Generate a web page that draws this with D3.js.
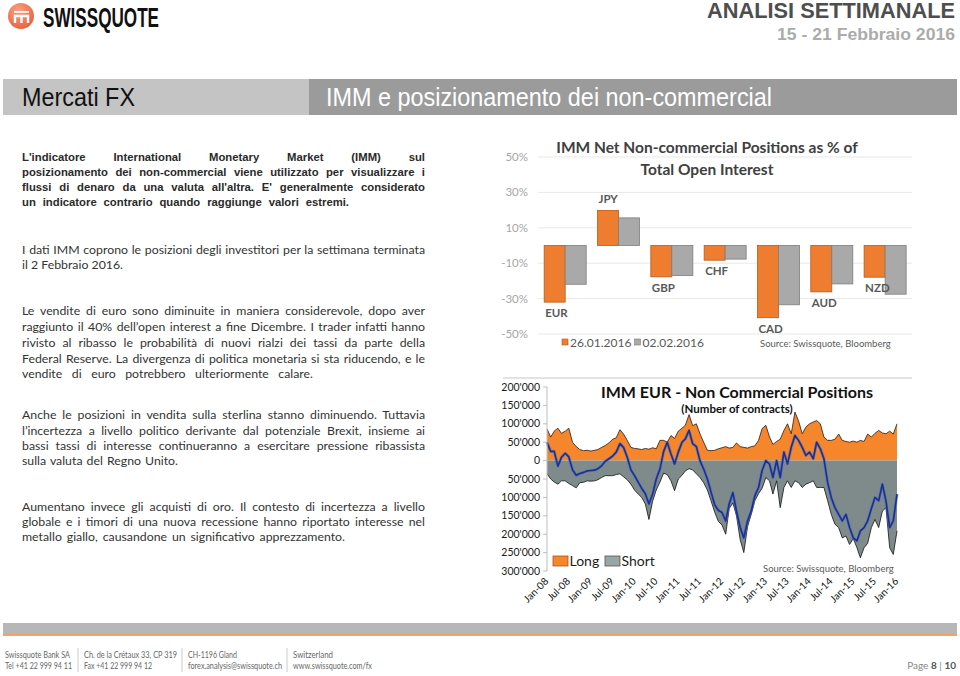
<!DOCTYPE html>
<html><head><meta charset="utf-8">
<script src="https://cdn.jsdelivr.net/npm/d3@7"></script>
<style>
html,body{margin:0;padding:0;background:#fff;}
svg{display:block;}
</style></head>
<body>
<svg id="page" width="960" height="676"></svg>
<script>
// ---------- DATA: bar chart ----------
const barCategories = ["EUR","JPY","GBP","CHF","CAD","AUD","NZD"];
const barSeries = ["26.01.2016","02.02.2016"];
const bar26Jan = [-32.0, 19.8, -17.7, -8.3, -40.8, -26.2, -17.9];
const bar02Feb = [-21.9, 15.6, -17.0, -7.7, -33.5, -21.7, -27.5];
const barTicks = [50, 30, 10, -10, -30, -50];

// ---------- DATA: EUR positions (thousands of contracts, monthly from Jan-08) ----------
const eurStart = "2008-01";
const eurLongK = [86,64,80,88,74,80,88,50,38,30,
  27,28,26,28,30,36,41,48,58,62,
  84,72,55,36,33,32,30,33,31,35,
  32,55,55,50,68,60,80,88,96,125,
  95,100,73,50,28,27,28,32,35,38,
  34,36,48,38,36,34,38,40,55,87,
  96,64,44,52,58,82,100,73,132,108,
  73,91,100,105,109,100,64,55,55,58,
  72,55,52,50,53,50,55,52,72,64,
  74,82,75,73,80,72,100];
const eurShortK = [-36,-50,-58,-64,-55,-55,-62,-68,-74,-60,
  -59,-55,-56,-55,-52,-46,-41,-41,-41,-38,
  -36,-44,-52,-64,-80,-91,-100,-118,-160,-110,
  -80,-58,-34,-38,-55,-82,-50,-40,-28,-22,
  -25,-36,-46,-60,-80,-109,-140,-165,-175,-200,
  -130,-115,-150,-215,-250,-180,-146,-109,-90,-75,
  -46,-55,-91,-55,-128,-73,-55,-73,-55,-60,
  -73,-64,-60,-55,-73,-73,-73,-109,-146,-173,
  -182,-210,-205,-228,-212,-237,-264,-237,-225,-182,
  -160,-182,-137,-128,-237,-255,-191];
const eurNetK = [50,25,25,-15,9,20,10,-25,-40,-35,
  -32,-28,-27,-26,-22,-14,-2,5,12,23,
  46,36,9,-25,-41,-59,-75,-90,-118,-91,
  -50,-23,25,50,18,-9,23,50,59,82,
  46,38,0,-23,-50,-85,-120,-135,-141,-164,
  -118,-87,-137,-182,-210,-164,-137,-96,-73,-27,
  0,-10,-46,0,-46,23,-9,36,68,55,
  36,14,23,5,50,32,5,-60,-100,-128,
  -146,-164,-146,-182,-210,-218,-191,-182,-164,-130,
  -100,-109,-64,-110,-182,-164,-91];
const eurXTicks = ["Jan-08","Jul-08","Jan-09","Jul-09","Jan-10","Jul-10","Jan-11","Jul-11",
  "Jan-12","Jul-12","Jan-13","Jul-13","Jan-14","Jul-14","Jan-15","Jul-15","Jan-16"];
const eurYTicksK = [200,150,100,50,0,-50,-100,-150,-200,-250,-300];
const eurSeries = ["Long","Short"];

// ---------- PAGE ----------
const svg = d3.select("#page");
const BODY = "Lato, 'Open Sans', sans-serif";
const NARROW = "'Liberation Sans Narrow', 'Liberation Sans', Arial, sans-serif";
const ARIAL = "'Liberation Sans', Arial, sans-serif";
const CAL = "Lato, 'Open Sans', sans-serif";

// logo
const defs = svg.append("defs");
const rg = defs.append("radialGradient").attr("id","lg").attr("cx","40%").attr("cy","30%").attr("r","75%");
rg.append("stop").attr("offset","0%").attr("stop-color","#f9a184");
rg.append("stop").attr("offset","100%").attr("stop-color","#e8603d");
svg.append("circle").attr("cx",21).attr("cy",16).attr("r",13).attr("fill","url(#lg)");
svg.append("rect").attr("x",14).attr("y",11).attr("width",15).attr("height",1.8).attr("fill","#fff");
svg.append("path").attr("d","M15 23 V16 H28 V23 M21.5 16 V23").attr("fill","none").attr("stroke","#fff").attr("stroke-width",2.4);
svg.append("text").attr("x",43).attr("y",27).text("SWISSQUOTE")
  .attr("font-family",NARROW).attr("font-weight","bold").attr("font-size",28)
  .attr("textLength",116).attr("lengthAdjust","spacingAndGlyphs").attr("fill","#111");

svg.append("text").attr("x",955).attr("y",18).attr("text-anchor","end").text("ANALISI SETTIMANALE")
  .attr("font-family",ARIAL).attr("font-weight","bold").attr("font-size",21.5)
  .attr("textLength",248).attr("lengthAdjust","spacingAndGlyphs").attr("fill","#4e4e4e");
svg.append("text").attr("x",955).attr("y",40).attr("text-anchor","end").text("15 - 21 Febbraio 2016")
  .attr("font-family",ARIAL).attr("font-weight","bold").attr("font-size",16.5)
  .attr("textLength",178).attr("lengthAdjust","spacingAndGlyphs").attr("fill","#ababab");

// header band
svg.append("rect").attr("x",3).attr("y",79).attr("width",306).attr("height",36).attr("fill","#c4c4c4");
svg.append("rect").attr("x",309).attr("y",79).attr("width",648).attr("height",36).attr("fill","#9b9b9b");
svg.append("text").attr("x",22).attr("y",106).text("Mercati FX")
  .attr("font-family",NARROW).attr("font-size",25).attr("textLength",113).attr("lengthAdjust","spacingAndGlyphs").attr("fill","#111");
svg.append("text").attr("x",326).attr("y",106).text("IMM e posizionamento dei non-commercial")
  .attr("font-family",NARROW).attr("font-size",25).attr("textLength",446).attr("lengthAdjust","spacingAndGlyphs").attr("fill","#fff");

// body text, justified by word spacing
function para(lines, font, size, weight, color){
  lines.forEach(l=>{
    const t = svg.append("text").attr("x",22).attr("y",l[1]).attr("dy","0.35em").text(l[0])
      .attr("font-family",font).attr("font-size",size).attr("font-weight",weight).attr("fill",color);
    if (l[2]) {
      const nat = t.node().getComputedTextLength();
      const spaces = (l[0].match(/ /g) || []).length;
      if (spaces > 0) t.attr("word-spacing", (l[2] - nat) / spaces);
    }
  });
}
para([
 ["L'indicatore International Monetary Market (IMM) sul",157,403],
 ["posizionamento dei non-commercial viene utilizzato per visualizzare i",172,403],
 ["flussi di denaro da una valuta all'altra. E' generalmente considerato",187,403],
 ["un indicatore contrario quando raggiunge valori estremi.",202,327]
], ARIAL, 11.3, "bold", "#2a2a2a");
para([
 ["I dati IMM coprono le posizioni degli investitori per la settimana terminata",250,403],
 ["il 2 Febbraio 2016.",265,101]
], BODY, 12.3, "normal", "#333");
para([
 ["Le vendite di euro sono diminuite in maniera considerevole, dopo aver",311,403],
 ["raggiunto il 40% dell\u2019open interest a fine Dicembre. I trader infatti hanno",327,403],
 ["rivisto al ribasso le probabilità di nuovi rialzi dei tassi da parte della",343,403],
 ["Federal Reserve. La divergenza di politica monetaria si sta riducendo, e le",359,403],
 ["vendite di euro potrebbero ulteriormente calare.",374,291]
], BODY, 12.3, "normal", "#333");
para([
 ["Anche le posizioni in vendita sulla sterlina stanno diminuendo. Tuttavia",415,403],
 ["l\u2019incertezza a livello politico derivante dal potenziale Brexit, insieme ai",431,403],
 ["bassi tassi di interesse continueranno a esercitare pressione ribassista",446,403],
 ["sulla valuta del Regno Unito.",461,156]
], BODY, 12.3, "normal", "#333");
para([
 ["Aumentano invece gli acquisti di oro. Il contesto di incertezza a livello",507,403],
 ["globale e i timori di una nuova recessione hanno riportato interesse nel",522,403],
 ["metallo giallo, causandone un significativo apprezzamento.",537,323]
], BODY, 12.3, "normal", "#333");

// ---------- CHART 1: bars ----------
const c1 = svg.append("g");
const x0 = d3.scaleBand().domain(barCategories).range([538.3, 912]).paddingInner(0.212).paddingOuter(0.11);
const x1 = d3.scaleBand().domain(barSeries).range([0, x0.bandwidth()]);
const y1 = d3.scaleLinear().domain([-50, 50]).range([334, 157]);
barTicks.forEach(t=>{
  c1.append("line").attr("x1",538).attr("x2",912).attr("y1",y1(t)).attr("y2",y1(t)).attr("stroke","#e8e8e8");
  c1.append("text").attr("x",528).attr("y",y1(t)).attr("dy","0.35em").attr("text-anchor","end")
    .text(t+"%").attr("font-family",CAL).attr("font-size",11.5).attr("fill","#a6a6a6");
});
const barCols = {fill:["#ef7d2f","#a9a9a9"], stroke:["#b65a1c","#7d7d7d"]};
[bar26Jan, bar02Feb].forEach((arr, si)=>{
  c1.selectAll(null).data(arr).enter().append("rect")
    .attr("x",(d,i)=>x0(barCategories[i]) + x1(barSeries[si]))
    .attr("y",d=>y1(Math.max(0,d)))
    .attr("width",x1.bandwidth())
    .attr("height",d=>Math.abs(y1(d)-y1(0)))
    .attr("fill",barCols.fill[si]).attr("stroke",barCols.stroke[si]).attr("stroke-width",0.8);
});
barCategories.forEach((c,i)=>{
  const v = bar26Jan[i];
  const yy = v >= 0 ? y1(v) - 11 : y1(v) + 11;
  c1.append("text").attr("x",x0(c)+1).attr("y",yy).attr("dy","0.35em").text(c)
    .attr("font-family",CAL).attr("font-weight","bold").attr("font-size",11.5).attr("fill","#595959");
});
c1.append("text").attr("x",707).attr("y",148).attr("dy","0.35em").attr("text-anchor","middle")
  .text("IMM Net Non-commercial Positions as % of").attr("font-family",CAL).attr("font-weight","bold")
  .attr("font-size",15.5).attr("fill","#404040");
c1.append("text").attr("x",707).attr("y",169.5).attr("dy","0.35em").attr("text-anchor","middle")
  .text("Total Open Interest").attr("font-family",CAL).attr("font-weight","bold")
  .attr("font-size",15.5).attr("fill","#404040");
// legend
const lg1x = [562, 634.5];
barSeries.forEach((s,i)=>{
  c1.append("rect").attr("x",lg1x[i]).attr("y",339).attr("width",6).attr("height",6)
    .attr("fill",barCols.fill[i]).attr("stroke",barCols.stroke[i]).attr("stroke-width",0.6);
  c1.append("text").attr("x",lg1x[i]+8).attr("y",342.5).attr("dy","0.35em").text(s)
    .attr("font-family",CAL).attr("font-size",12).attr("fill","#595959");
});
c1.append("text").attr("x",760).attr("y",343.5).attr("dy","0.35em").text("Source: Swissquote, Bloomberg")
  .attr("font-family",CAL).attr("font-size",9.5).attr("fill","#595959");

// ---------- CHART 2: EUR positions ----------
const c2 = svg.append("g");
const parseM = d3.timeParse("%Y-%m");
const t0 = parseM(eurStart);
const months = eurLongK.map((d,i)=>d3.timeMonth.offset(t0, i));
const parseTick = d3.timeParse("%b-%y");
const xt = d3.scaleTime().domain([parseTick(eurXTicks[0]), parseTick(eurXTicks[eurXTicks.length-1])]).range([547, 897]);
const y2 = d3.scaleLinear().domain([-300, 200]).range([571, 387]);

c2.append("line").attr("x1",503).attr("x2",912).attr("y1",378).attr("y2",378).attr("stroke","#c8c8c8").attr("stroke-width",1.2);

const areaLong = d3.area().x((d,i)=>xt(months[i])).y0(y2(0)).y1(d=>y2(d));
const lineTop = d3.line().x((d,i)=>xt(months[i])).y(d=>y2(d));
c2.append("path").datum(eurLongK).attr("d",areaLong).attr("fill","#f5862c");
c2.append("path").datum(eurShortK).attr("d",areaLong).attr("fill","#7f8b8b");
c2.append("path").datum(eurLongK).attr("d",lineTop).attr("fill","none").attr("stroke","#2a1a10").attr("stroke-width",0.8);
c2.append("path").datum(eurShortK).attr("d",lineTop).attr("fill","none").attr("stroke","#111").attr("stroke-width",0.8);
c2.append("path").datum(eurNetK).attr("d",lineTop).attr("fill","none").attr("stroke","#4f6fc4").attr("stroke-width",3).attr("stroke-opacity",0.6).attr("stroke-linejoin","round");
c2.append("path").datum(eurNetK).attr("d",lineTop).attr("fill","none").attr("stroke","#1b2f8f").attr("stroke-width",1.6).attr("stroke-linejoin","round");

// y axis
c2.append("line").attr("x1",547).attr("x2",547).attr("y1",y2(200)).attr("y2",y2(-300)).attr("stroke","#bdbdbd");
const fmt = d3.format(",");
eurYTicksK.forEach(t=>{
  c2.append("line").attr("x1",543).attr("x2",547).attr("y1",y2(t)).attr("y2",y2(t)).attr("stroke","#bdbdbd");
  c2.append("text").attr("x",540).attr("y",y2(t)).attr("dy","0.35em").attr("text-anchor","end")
    .text(fmt(Math.abs(t*1000)).replace(/,/g,"'")).attr("font-family",CAL).attr("font-size",10.5).attr("fill","#1a1a1a");
});
// x labels
eurXTicks.forEach(lbl=>{
  const xx = xt(parseTick(lbl));
  c2.append("text").attr("transform",`translate(${xx+2},${582}) rotate(-45)`).attr("text-anchor","end")
    .text(lbl).attr("font-family",CAL).attr("font-size",10).attr("fill","#111");
});
// titles
c2.append("text").attr("x",737).attr("y",392).attr("dy","0.35em").attr("text-anchor","middle")
  .text("IMM EUR - Non Commercial Positions").attr("font-family",CAL).attr("font-weight","bold")
  .attr("font-size",16).attr("fill","#111");
c2.append("text").attr("x",737).attr("y",409).attr("dy","0.35em").attr("text-anchor","middle")
  .text("(Number of contracts)").attr("font-family",CAL).attr("font-weight","bold")
  .attr("font-size",11.5).attr("fill","#111");
// legend
const lg2 = [{x:553, fill:"#f5862c", stroke:"#a85515"},{x:605, fill:"#9aa5a5", stroke:"#555"}];
eurSeries.forEach((s,i)=>{
  c2.append("rect").attr("x",lg2[i].x).attr("y",556).attr("width",15).attr("height",10)
    .attr("fill",lg2[i].fill).attr("stroke",lg2[i].stroke).attr("stroke-width",0.8);
  c2.append("text").attr("x",lg2[i].x+16.5).attr("y",565.5).text(s)
    .attr("font-family",CAL).attr("font-size",14).attr("fill","#222");
});
c2.append("text").attr("x",763).attr("y",569).attr("dy","0.35em").text("Source: Swissquote, Bloomberg")
  .attr("font-family",CAL).attr("font-size",9.5).attr("fill","#595959");

// ---------- FOOTER ----------
svg.append("rect").attr("x",3).attr("y",623).attr("width",954).attr("height",10).attr("fill","#b7b7b7");
svg.append("rect").attr("x",3).attr("y",633).attr("width",954).attr("height",3).attr("fill","#f6a06a");
const foot = [
  [5, "Swissquote Bank SA", 65, "Tel +41 22 999 94 11", 67],
  [84, "Ch. de la Crétaux 33, CP 319", 93, "Fax +41 22 999 94 12", 68],
  [188, "CH-1196 Gland", 49, "forex.analysis@swissquote.ch", 94],
  [293, "Switzerland", 40, "www.swissquote.com/fx", 79]
];
foot.forEach((f,i)=>{
  svg.append("text").attr("x",f[0]).attr("y",655).attr("dy","0.35em").text(f[1])
    .attr("font-family",BODY).attr("font-size",8.5).attr("textLength",f[2]).attr("lengthAdjust","spacingAndGlyphs").attr("fill","#666");
  svg.append("text").attr("x",f[0]).attr("y",666).attr("dy","0.35em").text(f[3])
    .attr("font-family",BODY).attr("font-size",8.5).attr("textLength",f[4]).attr("lengthAdjust","spacingAndGlyphs").attr("fill","#666");
  if (i>0) svg.append("line").attr("x1",f[0]-6).attr("x2",f[0]-6).attr("y1",648).attr("y2",672).attr("stroke","#ccc");
});
const pg = svg.append("text").attr("x",956).attr("y",665).attr("dy","0.35em").attr("text-anchor","end")
  .attr("font-family",BODY).attr("font-size",10).attr("fill","#888");
pg.append("tspan").text("Page ");
pg.append("tspan").text("8").attr("font-weight","bold").attr("fill","#555");
pg.append("tspan").text(" | ");
pg.append("tspan").text("10").attr("font-weight","bold").attr("fill","#555");
</script>
</body></html>
